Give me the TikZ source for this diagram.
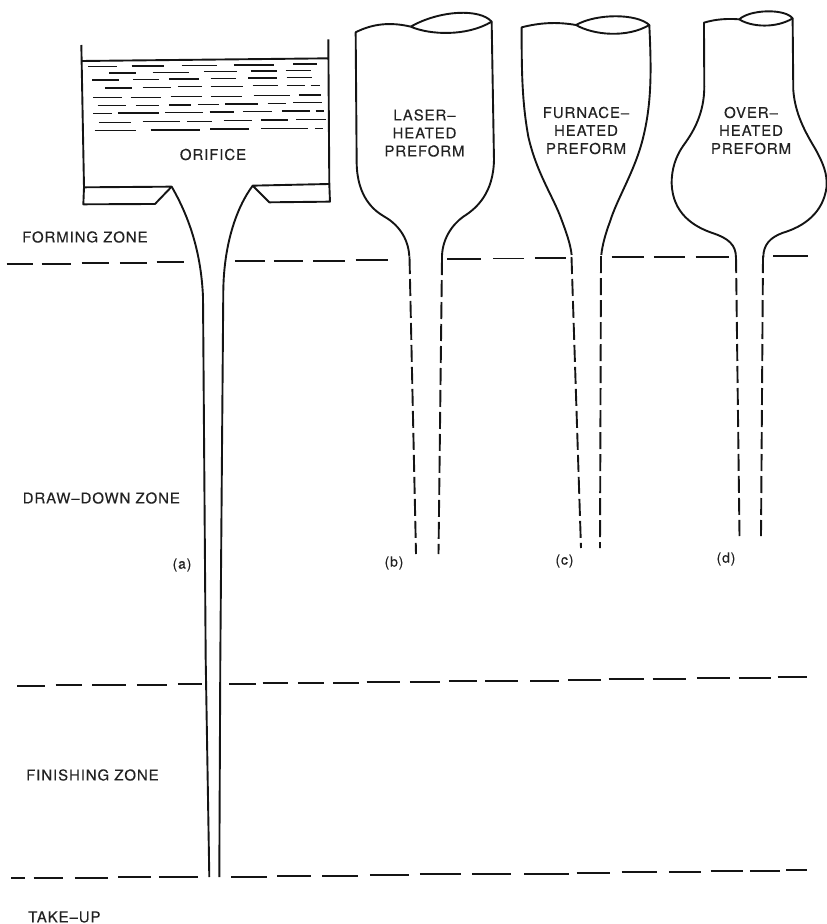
\documentclass[tikz,border=0pt]{standalone}
\usepackage{fontspec}
\setmainfont{TeX Gyre Heros}[LetterSpace=6,FakeBold=0.25]
\definecolor{inkc}{HTML}{141414}
\definecolor{textc}{HTML}{222222}
\tikzset{
  ink/.style={draw=inkc,line width=1.9pt,line join=round},
  zoneline/.style={draw=inkc,line width=1.7pt},
  thindash/.style={draw=inkc,line width=1.5pt},
  tail/.style={draw=inkc,line width=1.9pt,dash pattern=on 17pt off 5pt},
  lab/.style={text=textc,font=\fontsize{15}{18}\selectfont,inner sep=0pt,align=center},
  sublab/.style={text=textc,font=\fontsize{14}{16}\selectfont,inner sep=0pt}
}
\newcommand{\segs}[1]{\foreach \a/\b/\c in {#1} \draw[zoneline] (\a,\c) -- (\b,\c);}
\begin{document}
\begin{tikzpicture}[x=1pt,y=-1pt]
\useasboundingbox (0,0) rectangle (827,924);
% tank
\begin{scope}[shift={(60,30)},x=0.3333pt,y=-0.3333pt]
\draw[ink] (64,45) -- (72,472) -- (70,523) -- (285,522) -- (335,470) -- (72,472);
\draw[ink] (805,28) -- (808,462) -- (810,515) -- (628,517) -- (578,467) -- (808,462);
\draw[ink] (65,93) -- (805,85);
\foreach \a/\b/\c in {85/172/110,215/313/108,365/470/106,522/642/105,700/772/102,
 148/227/129,278/387/127,432/530/125,572/650/123,677/752/121,
 97/177/150,220/298/148,328/418/147,452/527/145,565/652/144,680/755/142,
 135/215/174,248/332/173,354/425/170,452/550/169,578/654/167,680/735/166,752/780/166,
 100/187/203,212/304/202,332/426/200,453/545/199,581/691/197,717/782/195,
 113/197/227,228/298/226,328/392/225,414/476/223,496/595/222,623/678/220,700/785/218,
 100/155/250,174/297/249,316/428/247,449/522/246,549/637/244,666/749/243,767/793/243,
 117/212/277,248/361/275,381/457/274,491/577/272,603/685/270,709/797/268,
 104/229/302,272/420/300,451/568/297,604/744/295,765/790/295}
  \draw[thindash] (\a,\c) -- (\b,\c);
\end{scope}
% fibre
\draw[ink] (171.7,186.7) .. controls (188,215) and (201,250) .. (203,297) -- (205.7,660) -- (209.3,877);
\draw[ink] (252.7,185.7) .. controls (236,208) and (224,245) .. (223.3,290) -- (220.3,660) -- (219.3,877);
% preforms, in the scale of the enlarged crop
\begin{scope}[shift={(340,0)},x=0.3333pt,y=-0.3333pt]
% b
\draw[ink] (212,80) .. controls (150,65) and (95,72) .. (47,97) -- (50,490)
  .. controls (52,590) and (100,630) .. (130,648) .. controls (170,670) and (205,710) .. (208,770);
\draw[ink] (212,80) .. controls (270,105) and (380,110) .. (455,65) .. controls (420,25) and (300,30) .. (212,80);
\draw[ink] (455,65) -- (462,480) .. controls (460,580) and (410,625) .. (370,650) .. controls (335,675) and (305,720) .. (306,775);
% c
\draw[ink] (708,75) .. controls (650,65) and (600,68) .. (545,82) .. controls (545,200) and (545,300) .. (565,410)
  .. controls (590,520) and (640,590) .. (665,660) .. controls (680,700) and (692,735) .. (695,765);
\draw[ink] (708,75) .. controls (760,105) and (860,115) .. (928,75) .. controls (890,40) and (770,40) .. (708,75);
\draw[ink] (928,75) .. controls (935,220) and (935,320) .. (905,430) .. controls (880,520) and (830,600) .. (810,665) .. controls (797,700) and (787,735) .. (784,765);
% d
\draw[ink] (1198,58) .. controls (1160,55) and (1125,58) .. (1092,68) -- (1093,260)
  .. controls (1093,340) and (1060,395) .. (1035,430) .. controls (1005,470) and (995,510) .. (995,550)
  .. controls (998,640) and (1060,680) .. (1120,700) .. controls (1165,715) and (1188,735) .. (1188,772);
\draw[ink] (1198,58) .. controls (1235,82) and (1310,85) .. (1358,55) .. controls (1335,25) and (1230,28) .. (1198,58);
\draw[ink] (1358,55) -- (1360,270) .. controls (1365,340) and (1395,395) .. (1425,445) .. controls (1450,490) and (1462,520) .. (1460,560)
  .. controls (1450,640) and (1390,680) .. (1330,698) .. controls (1290,712) and (1270,735) .. (1270,772);
\end{scope}
% dashed tails
\draw[tail] (409.5,257) -- (416,554);
\draw[tail] (442,258) -- (438.5,554);
\draw[tail] (571.5,257) -- (581,548);
\draw[tail] (601,256) -- (600,548);
\draw[tail] (736,256) -- (739.5,536);
\draw[tail] (763,256) -- (761,536);
% zone lines
\begin{scope}[shift={(0,220)},x=0.3333pt,y=-0.3333pt]
\segs{20/100/131,125/212/131,245/327/129,360/440/128,470/552/127,705/795/124,822/908/123,940/1035/122,1067/1165/121}
\end{scope}
\begin{scope}[shift={(340,0)},x=0.3333pt,y=-0.3333pt]
\segs{322/422/778,460/552/776,585/678/775,815/912/772,942/1036/772,1067/1167/771,1300/1403/768}
\end{scope}
\begin{scope}[shift={(0,660)},x=0.3333pt,y=-0.3333pt]
\segs{52/134/77,167/247/76,277/377/75,411/502/74,534/605/73,34/75/654,101/190/655,225/323/654,355/453/652,477/595/650}
\end{scope}
\begin{scope}[shift={(220,660)},x=0.3333pt,y=-0.3333pt]
\segs{27/107/71,128/204/70,234/311/69,340/418/68,440/540/67,570/661/66,687/771/64,796/895/62}
\end{scope}
\begin{scope}[shift={(520,660)},x=0.3333pt,y=-0.3333pt]
\segs{30/116/62,144/243/60,266/372/58,398/499/57,531/631/55,657/752/53,773/862/52}
\end{scope}
\begin{scope}[shift={(220,855)},x=0.3333pt,y=-0.3333pt]
\segs{33/142/65,172/273/63,307/415/62,450/567/61,600/723/58,756/874/57}
\end{scope}
\begin{scope}[shift={(520,855)},x=0.3333pt,y=-0.3333pt]
\segs{12/146/56,170/271/54,305/412/52,447/544/50,572/668/49,690/781/47,799/861/46}
\end{scope}
% labels
\node[lab] (orifice) at (213,154.5) {ORIFICE};
\node[lab] (laser) at (424.5,133) {LASER--\\HEATED\\PREFORM};
\node[lab] (furnace) at (586,130.5) {FURNACE--\\HEATED\\PREFORM};
\node[lab] (over) at (751,130.5) {OVER--\\HEATED\\PREFORM};
\node[lab,anchor=west] (forming) at (22,237) {FORMING ZONE};
\node[lab,anchor=west] (draw) at (22.5,498) {DRAW--DOWN ZONE};
\node[lab,anchor=west] (finish) at (26,775) {FINISHING ZONE};
\node[lab,anchor=west] (take) at (28,917) {TAKE--UP};
\node[sublab] (a) at (182,565) {(a)};
\node[sublab] (b) at (394,563) {(b)};
\node[sublab] (c) at (564.5,561) {(c)};
\node[sublab] (d) at (726,559) {(d)};
\end{tikzpicture}
\end{document}
